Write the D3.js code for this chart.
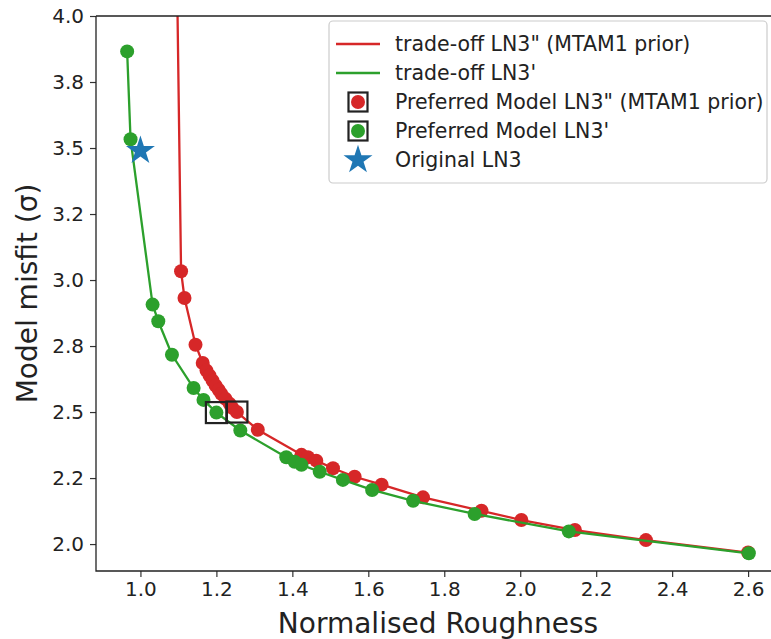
<!DOCTYPE html>
<html><head><meta charset="utf-8">
<script src="https://cdn.jsdelivr.net/npm/d3@7"></script>
<style>body{margin:0;background:#fff}svg{display:block}text{font-family:"DejaVu Sans",sans-serif;fill:#222}</style>
</head><body><svg id="c" width="771" height="639"></svg>
<script>
// ---- data ----
const redX = [1.092, 1.107, 1.116, 1.145, 1.164, 1.174, 1.182, 1.190, 1.198, 1.206, 1.213, 1.224, 1.235, 1.242, 1.254, 1.309, 1.424, 1.441, 1.463, 1.507, 1.564, 1.635, 1.744, 1.898, 2.003, 2.144, 2.331, 2.600];
const redY = [4.60, 3.033, 2.932, 2.755, 2.686, 2.657, 2.638, 2.619, 2.600, 2.584, 2.569, 2.550, 2.531, 2.516, 2.500, 2.433, 2.338, 2.329, 2.316, 2.287, 2.255, 2.225, 2.177, 2.126, 2.091, 2.053, 2.015, 1.968];
const greenX = [0.965, 0.974, 1.032, 1.047, 1.083, 1.140, 1.166, 1.200, 1.263, 1.384, 1.406, 1.424, 1.472, 1.533, 1.610, 1.718, 1.880, 2.128, 2.602];
const greenY = [3.866, 3.533, 2.907, 2.844, 2.717, 2.591, 2.546, 2.498, 2.430, 2.329, 2.312, 2.300, 2.274, 2.243, 2.205, 2.164, 2.114, 2.048, 1.965];
const preferredRed = [1.254, 2.500];
const preferredGreen = [1.200, 2.498];
const originalLN3 = [1.0, 3.49];
const xTicks = [1.0, 1.2, 1.4, 1.6, 1.8, 2.0, 2.2, 2.4, 2.6];
const xTickLabels = ["1.0","1.2","1.4","1.6","1.8","2.0","2.2","2.4","2.6"];
const yTicks = [2.0, 2.25, 2.5, 2.75, 3.0, 3.25, 3.5, 3.75, 4.0];
const yTickLabels = ["2.0","2.2","2.5","2.8","3.0","3.2","3.5","3.8","4.0"];
const legendLabels = ["trade-off LN3\" (MTAM1 prior)", "trade-off LN3'", "Preferred Model LN3\" (MTAM1 prior)", "Preferred Model LN3'", "Original LN3"];
const xLabel = "Normalised Roughness";
const yLabel = "Model misfit (\u03c3)";

// ---- layout ----
const L = 96, R = 780, T = 16, B = 571;
const RED = "#d62728", GREEN = "#2ca02c", BLUE = "#1f77b4";
const svg = d3.select("#c");
const x = d3.scaleLinear().domain([0.883, 2.684]).range([L, R]);
const y = d3.scaleLinear().domain([1.898, 4.0]).range([B, T]);

svg.append("defs").append("clipPath").attr("id","clip")
  .append("rect").attr("x",L).attr("y",T).attr("width",R-L).attr("height",B-T);
const plot = svg.append("g").attr("clip-path","url(#clip)");

const line = d3.line().x(d=>x(d[0])).y(d=>y(d[1]));
const red = redX.map((v,i)=>[v,redY[i]]);
const green = greenX.map((v,i)=>[v,greenY[i]]);
const MR = 7;

plot.append("path").datum(red).attr("d",line).attr("fill","none").attr("stroke",RED).attr("stroke-width",2.3);
plot.selectAll(".rd").data(red).join("circle").attr("cx",d=>x(d[0])).attr("cy",d=>y(d[1])).attr("r",MR).attr("fill",RED);
plot.append("path").datum(green).attr("d",line).attr("fill","none").attr("stroke",GREEN).attr("stroke-width",2.3);
plot.selectAll(".gd").data(green).join("circle").attr("cx",d=>x(d[0])).attr("cy",d=>y(d[1])).attr("r",MR).attr("fill",GREEN);

const BS = 21;
[preferredRed, preferredGreen].forEach(p=>{
  plot.append("rect").attr("x",x(p[0])-BS/2).attr("y",y(p[1])-BS/2).attr("width",BS).attr("height",BS)
    .attr("fill","none").attr("stroke","#222").attr("stroke-width",2.2);
});
const star = d3.symbol().type(d3.symbolStar).size(260);
plot.append("path").attr("d",star()).attr("transform",`translate(${x(originalLN3[0])},${y(originalLN3[1])})`).attr("fill",BLUE);

// ---- axes ----
const ax = svg.append("g").attr("transform",`translate(0,${B})`)
  .call(d3.axisBottom(x).tickValues(xTicks).tickFormat((d,i)=>xTickLabels[i]).tickSizeOuter(0).tickSize(6).tickPadding(5));
const ay = svg.append("g").attr("transform",`translate(${L},0)`)
  .call(d3.axisLeft(y).tickValues(yTicks).tickFormat((d,i)=>yTickLabels[i]).tickSizeOuter(0).tickSize(6).tickPadding(6));
[ax,ay].forEach(a=>{
  a.select(".domain").remove();
  a.selectAll(".tick line").attr("stroke","#333").attr("stroke-width",1.2);
  a.selectAll(".tick text").attr("font-size",20).attr("fill","#222");
});
// spines
svg.append("path").attr("d",`M${L},${T}V${B}H${R}M${L},${T}H${R}V${B}`).attr("fill","none").attr("stroke","#222").attr("stroke-width",1.3);

svg.append("text").attr("x",(L+R)/2).attr("y",633).attr("text-anchor","middle").attr("font-size",28).text(xLabel);
svg.append("text").attr("transform",`translate(37,${(T+B)/2}) rotate(-90)`).attr("text-anchor","middle").attr("font-size",28).text(yLabel);

// ---- legend ----
const lg = svg.append("g");
lg.append("rect").attr("x",329).attr("y",21).attr("width",438).attr("height",162).attr("rx",4)
  .attr("fill","#fff").attr("fill-opacity",0.8).attr("stroke","#ccc").attr("stroke-width",1.2);
const rows = [44,73,102,131,160];
const hx = 358;
lg.append("line").attr("x1",336).attr("x2",380).attr("y1",rows[0]).attr("y2",rows[0]).attr("stroke",RED).attr("stroke-width",2.3);
lg.append("line").attr("x1",336).attr("x2",380).attr("y1",rows[1]).attr("y2",rows[1]).attr("stroke",GREEN).attr("stroke-width",2.3);
[[rows[2],RED],[rows[3],GREEN]].forEach(([yy,c])=>{
  lg.append("circle").attr("cx",hx).attr("cy",yy).attr("r",MR).attr("fill",c);
  lg.append("rect").attr("x",hx-BS/2+1).attr("y",yy-BS/2+1).attr("width",BS-2).attr("height",BS-2)
    .attr("fill","none").attr("stroke","#222").attr("stroke-width",2.2);
});
lg.append("path").attr("d",star()).attr("transform",`translate(${hx},${rows[4]})`).attr("fill",BLUE);
lg.selectAll(".lt").data(legendLabels).join("text").attr("x",395).attr("y",(d,i)=>rows[i]).attr("dy","0.35em")
  .attr("font-size",20.5).text(d=>d);
</script></body></html>
